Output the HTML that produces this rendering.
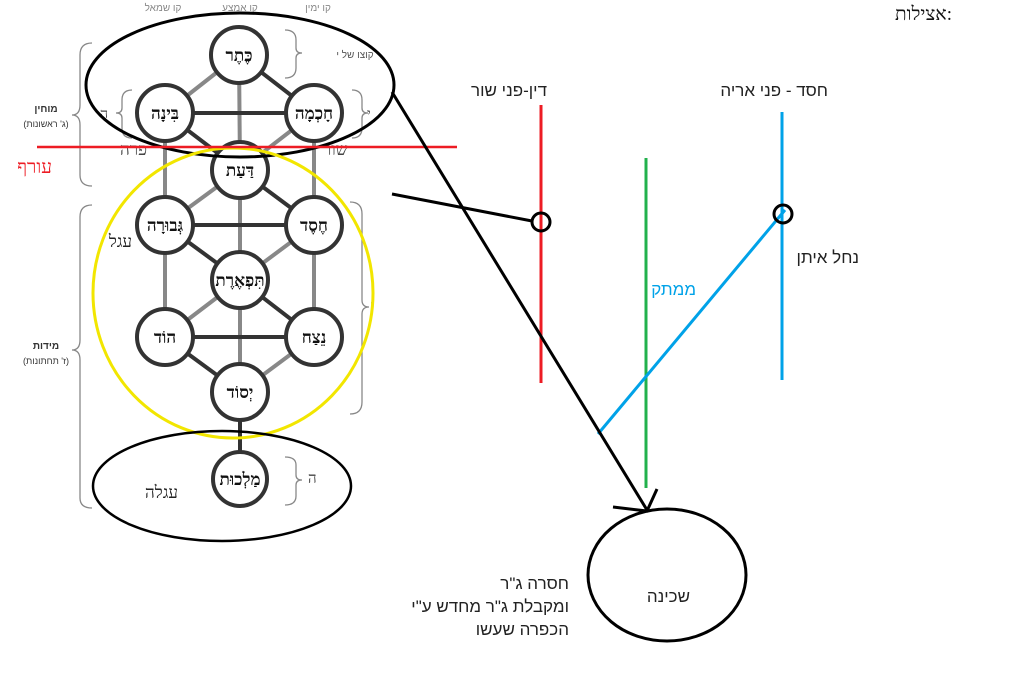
<!DOCTYPE html>
<html><head><meta charset="utf-8"><style>
html,body{margin:0;padding:0;background:#fff;width:1024px;height:680px;overflow:hidden}
svg{display:block}
text{font-family:"Liberation Serif","DejaVu Serif",serif}
.n{font-weight:bold;font-size:17px;fill:#111}
.s{font-family:"Liberation Sans","DejaVu Sans",sans-serif}
</style></head><body>
<svg width="1024" height="680" viewBox="0 0 1024 680" xmlns="http://www.w3.org/2000/svg">
<g fill="#888" font-size="10" text-anchor="middle">
<text x="163" y="11" class="s">קו שמאל</text>
<text x="240" y="11" class="s">קו אמצע</text>
<text x="318" y="11" class="s">קו ימין</text>
</g>
<g stroke-width="4" stroke-linecap="round">
<g stroke="#888">
<line x1="239" y1="55" x2="165" y2="113"/>
<line x1="239" y1="55" x2="240" y2="170"/>
<line x1="314" y1="113" x2="240" y2="170"/>
<line x1="165" y1="113" x2="165" y2="225"/>
<line x1="314" y1="113" x2="314" y2="225"/>
<line x1="240" y1="170" x2="165" y2="225"/>
<line x1="240" y1="170" x2="240" y2="392"/>
<line x1="314" y1="225" x2="240" y2="280"/>
<line x1="165" y1="225" x2="165" y2="337"/>
<line x1="314" y1="225" x2="314" y2="337"/>
<line x1="240" y1="280" x2="165" y2="337"/>
<line x1="314" y1="337" x2="240" y2="392"/>
</g>
<g stroke="#333">
<line x1="239" y1="55" x2="314" y2="113"/>
<line x1="165" y1="113" x2="314" y2="113"/>
<line x1="165" y1="113" x2="240" y2="170"/>
<line x1="240" y1="170" x2="314" y2="225"/>
<line x1="165" y1="225" x2="314" y2="225"/>
<line x1="165" y1="225" x2="240" y2="280"/>
<line x1="240" y1="280" x2="314" y2="337"/>
<line x1="165" y1="337" x2="314" y2="337"/>
<line x1="165" y1="337" x2="240" y2="392"/>
<line x1="240" y1="392" x2="240" y2="479"/>
</g>
</g>
<g fill="#fff" stroke="#333" stroke-width="4">
<circle cx="239" cy="55" r="28"/>
<circle cx="314" cy="113" r="28"/>
<circle cx="165" cy="113" r="28"/>
<circle cx="240" cy="170" r="28"/>
<circle cx="314" cy="225" r="28"/>
<circle cx="165" cy="225" r="28"/>
<circle cx="240" cy="280" r="28"/>
<circle cx="314" cy="337" r="28"/>
<circle cx="165" cy="337" r="28"/>
<circle cx="240" cy="392" r="28"/>
<circle cx="240" cy="479" r="27"/>
</g>
<g text-anchor="middle">
<text x="239" y="61" class="n">כֶּתֶר</text>
<text x="314" y="119" class="n">חָכְמָה</text>
<text x="165" y="119" class="n">בִּינָה</text>
<text x="240" y="176" class="n">דַּעַת</text>
<text x="314" y="231" class="n">חֶסֶד</text>
<text x="165" y="231" class="n">גְּבוּרָה</text>
<text x="240" y="286" class="n" font-size="16">תִּפְאֶרֶת</text>
<text x="314" y="343" class="n">נֵצַח</text>
<text x="165" y="343" class="n">הוֹד</text>
<text x="240" y="398" class="n">יְסוֹד</text>
<text x="240" y="485" class="n" font-size="16">מַלְכוּת</text>
</g>
<g fill="none" stroke="#888" stroke-width="1.3">
<path d="M92 43 Q80 43 80 55 L80 105 Q80 115 72 115 Q80 115 80 125 L80 175 Q80 186 92 186"/>
<path d="M92 205 Q80 205 80 217 L80 340 Q80 350 72 350 Q80 350 80 360 L80 498 Q80 508 92 508"/>
<path d="M285 30 Q296 30 296 40 L296 48 Q296 53 302 53 Q296 53 296 58 L296 68 Q296 78 285 78"/>
<path d="M352 90 Q362 90 362 100 L362 108 Q362 113 368 113 Q362 113 362 118 L362 128 Q362 138 352 138"/>
<path d="M132 90 Q122 90 122 100 L122 108 Q122 113 116 113 Q122 113 122 118 L122 128 Q122 138 132 138"/>
<path d="M350 202 Q362 202 362 214 L362 300 Q362 307 369 307 Q362 307 362 314 L362 402 Q362 414 350 414"/>
<path d="M285 457 Q296 457 296 465 L296 475 Q296 480 302 480 Q296 480 296 485 L296 496 Q296 505 285 505"/>
</g>
<g fill="#333" text-anchor="middle" font-weight="bold" font-size="10">
<text x="46" y="112" class="s">מוחין</text>
<text x="46" y="127" class="s" font-weight="normal" font-size="9">(ג' ראשונות)</text>
<text x="46" y="349" class="s">מידות</text>
<text x="46" y="364" class="s" font-weight="normal" font-size="9">(ז' תחתונות)</text>
</g>
<g fill="#444" font-size="14">
<text x="355" y="58" class="s" font-size="10" fill="#555" text-anchor="middle">קוצו של י</text>
<text x="367" y="118">י</text>
<text x="100" y="118">ה</text>
<text x="371" y="310">ו</text>
<text x="308" y="483" font-size="15">ה</text>
</g>
<text x="120" y="155" font-size="17" fill="#444">פרה</text>
<text x="323" y="155" font-size="17" fill="#444">שור</text>
<ellipse cx="240" cy="85" rx="154" ry="72" fill="none" stroke="#000" stroke-width="3"/>
<ellipse cx="233" cy="293" rx="140" ry="145" fill="none" stroke="#f2e600" stroke-width="3"/>
<ellipse cx="222" cy="486" rx="129" ry="55" fill="none" stroke="#000" stroke-width="2.5"/>
<ellipse cx="667" cy="575" rx="79" ry="66" fill="none" stroke="#000" stroke-width="3"/>
<line x1="37" y1="147" x2="457" y2="147" stroke="#ed1c24" stroke-width="2.5"/>
<text x="52" y="173" font-size="19" fill="#ed1c24" text-anchor="end">עורף</text>
<text x="132" y="247" font-size="17" fill="#222" text-anchor="end">עגל</text>
<text x="178" y="498" font-size="17" fill="#222" text-anchor="end">עגלה</text>
<line x1="541" y1="105" x2="541" y2="383" stroke="#ed1c24" stroke-width="3"/>
<line x1="646" y1="158" x2="646" y2="488" stroke="#22b14c" stroke-width="3"/>
<line x1="782" y1="112" x2="782" y2="380" stroke="#00a2e8" stroke-width="3"/>
<line x1="598" y1="434" x2="785" y2="210" stroke="#00a2e8" stroke-width="3"/>
<line x1="392" y1="92" x2="647" y2="510" stroke="#000" stroke-width="3"/>
<polyline points="613,507 647,511 657,489" fill="none" stroke="#000" stroke-width="3"/>
<line x1="392" y1="194" x2="532" y2="221" stroke="#000" stroke-width="3"/>
<circle cx="541" cy="222" r="9" fill="none" stroke="#000" stroke-width="3"/>
<circle cx="783" cy="214" r="9" fill="none" stroke="#000" stroke-width="3"/>
<g font-size="17" fill="#222" text-anchor="end">
<text x="547" y="96" class="s">דין-פני שור</text>
<text x="828" y="96" class="s">חסד - פני אריה</text>
<text x="859" y="263" class="s">נחל איתן</text>
<text x="696" y="295" class="s" fill="#00a2e8">ממתק</text>
<text x="690" y="602" class="s">שכינה</text>
<text x="569" y="589" class="s">חסרה ג"ר</text>
<text x="569" y="612" class="s">ומקבלת ג"ר מחדש ע"י</text>
<text x="569" y="635" class="s">הכפרה שעשו</text>
</g>
<text x="952" y="20" font-size="19" fill="#111" text-anchor="end">אצילות:</text>
</svg>
</body></html>
